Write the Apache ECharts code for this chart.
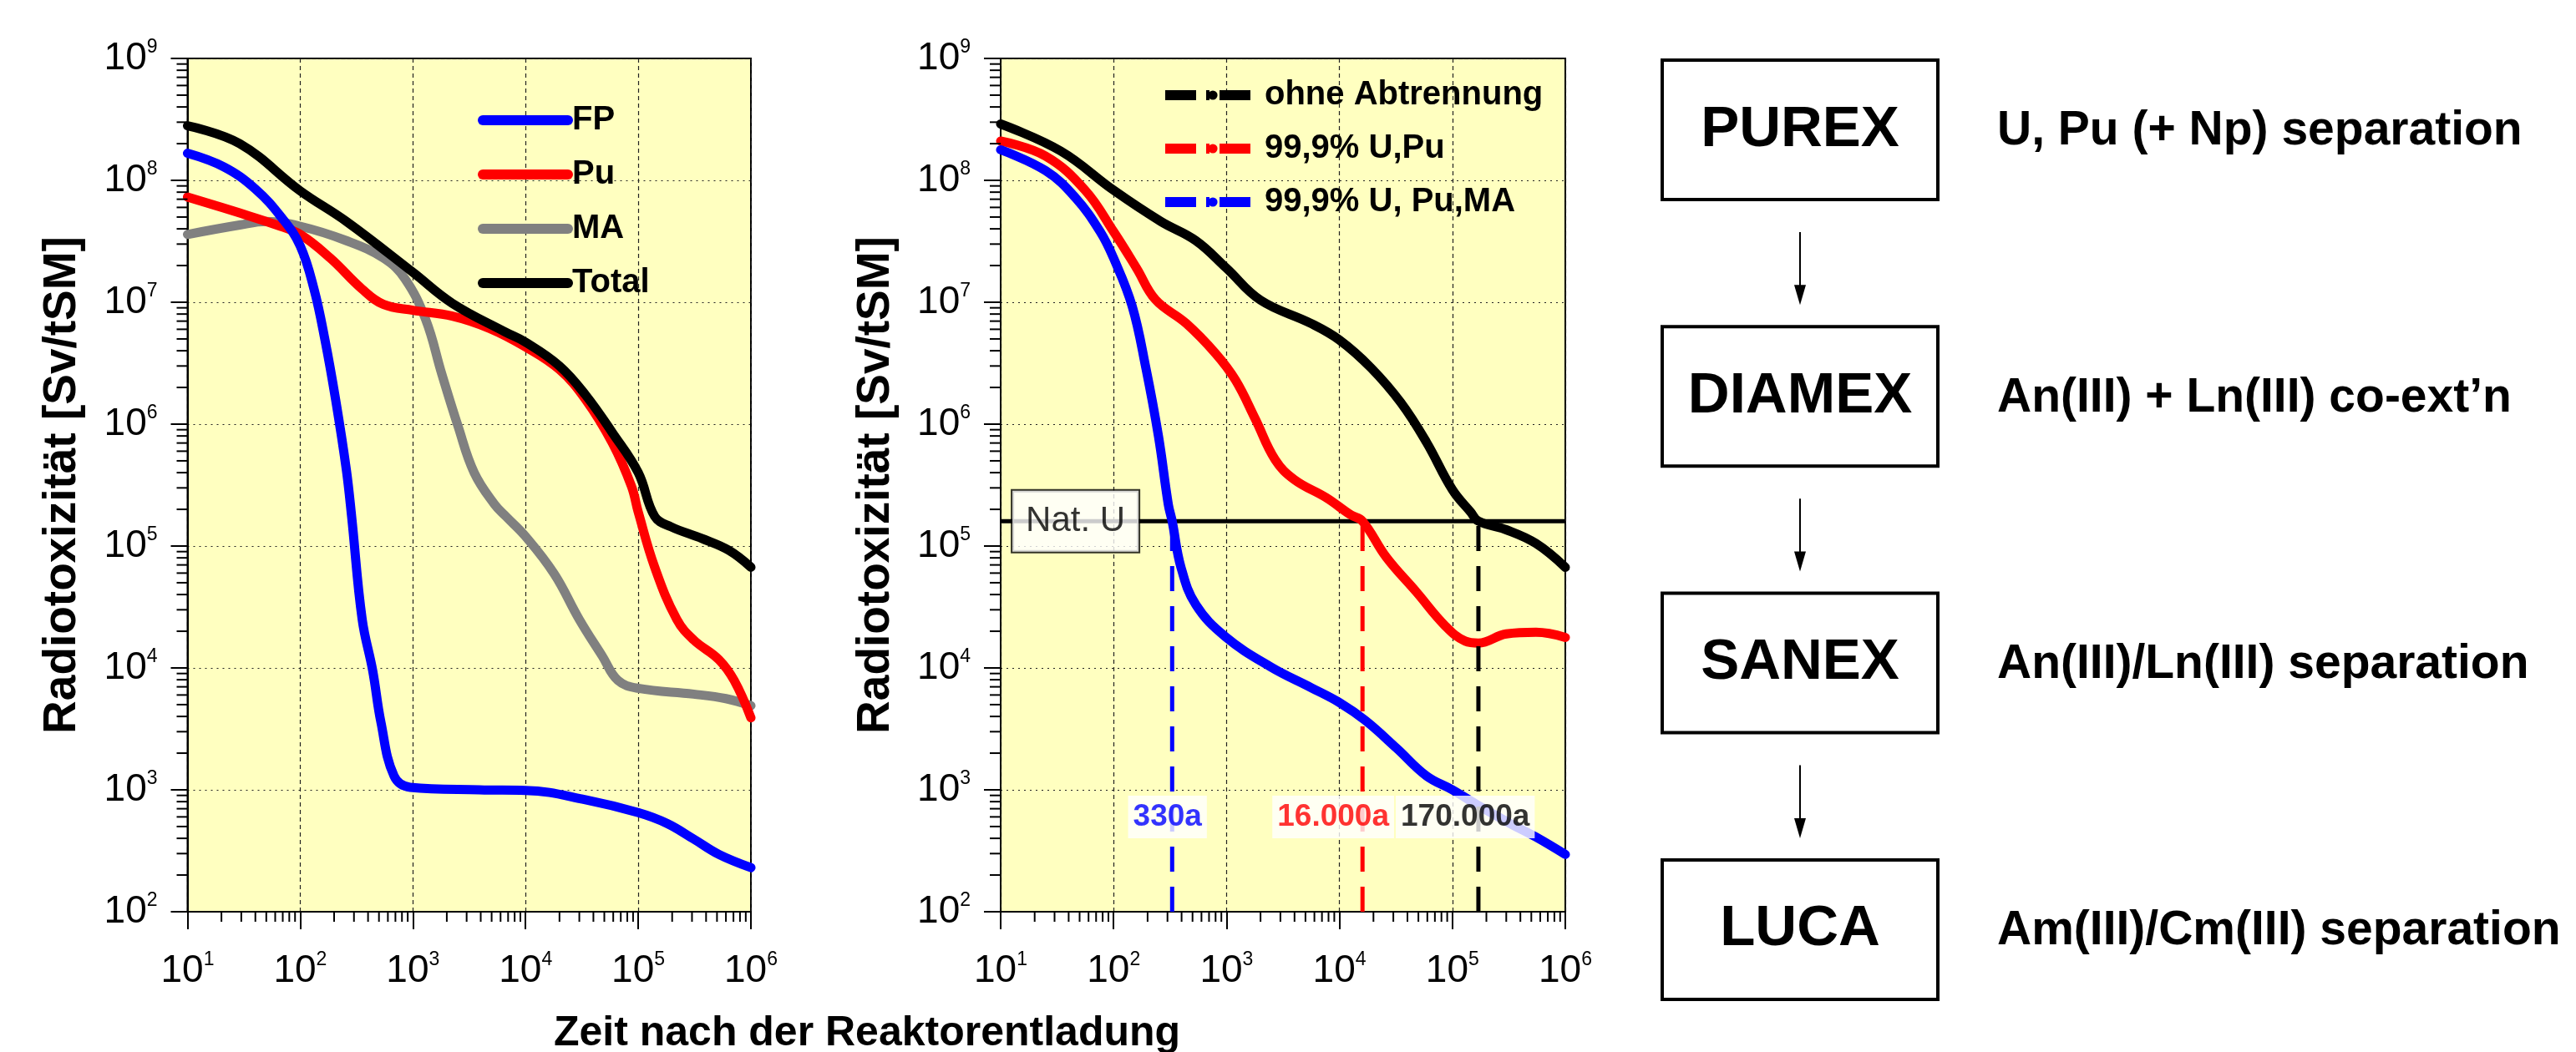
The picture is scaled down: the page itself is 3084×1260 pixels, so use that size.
<!DOCTYPE html>
<html>
<head>
<meta charset="utf-8">
<script src="https://cdn.jsdelivr.net/npm/echarts@6/dist/echarts.min.js"></script>
<style>
html,body{margin:0;padding:0;background:#fff;}
#chart{width:3084px;height:1260px;}
</style>
</head>
<body>
<div id="chart"></div>
<script>
// ---------- data ----------
// tick label exponents (labels are 10^n)
const xExp = [1, 2, 3, 4, 5, 6];
const yExp = [2, 3, 4, 5, 6, 7, 8, 9];

// left chart: radiotoxicity components (time in years, Sv/tSM)
const fpT = [10, 21, 40, 69, 100, 133, 166, 206, 257, 286, 355, 440, 520, 680, 945, 3900, 10000, 34000, 100000, 180000, 310000, 520000, 1000000];
const fpV = [1.67e8, 1.29e8, 8.5e7, 4.9e7, 2.9e7, 1.27e7, 4.9e6, 1.6e6, 4.2e5, 1.75e5, 2.5e4, 9.5e3, 3.6e3, 1.3e3, 1.05e3, 1.0e3, 9.9e2, 8.3e2, 6.5e2, 5.3e2, 3.95e2, 2.95e2, 2.3e2];

const puT = [10, 29, 62, 100, 185, 355, 550, 1000, 2240, 4800, 10000, 20000, 34000, 59000, 87000, 100000, 140000, 220000, 310000, 520000, 710000, 1000000];
const puV = [7.3e7, 5.4e7, 4.3e7, 3.6e7, 2.3e7, 1.28e7, 9.6e6, 8.6e6, 7.7e6, 6.1e6, 4.3e6, 2.8e6, 1.6e6, 7.0e5, 3.1e5, 1.9e5, 6.7e4, 2.5e4, 1.7e4, 1.17e4, 7.9e3, 3.9e3];

const maT = [10, 29, 50, 100, 257, 550, 850, 1300, 1800, 2500, 3500, 5300, 6700, 10000, 18000, 30000, 48000, 66000, 100000, 310000, 600000, 1000000];
const maV = [3.6e7, 4.3e7, 4.6e7, 4.2e7, 3.2e7, 2.3e7, 1.56e7, 7.2e6, 2.6e6, 9.8e5, 4.0e5, 2.2e5, 1.75e5, 1.2e5, 5.9e4, 2.5e4, 1.25e4, 7.9e3, 6.8e3, 6.1e3, 5.6e3, 4.9e3];

const totT = [10, 29, 100, 257, 1000, 2240, 6600, 10000, 20000, 34000, 59000, 100000, 140000, 195000, 370000, 640000, 1000000];
const totV = [2.8e8, 2.0e8, 8.2e7, 4.6e7, 1.76e7, 9.8e6, 5.7e6, 4.7e6, 3.0e6, 1.74e6, 8.5e5, 4.0e5, 1.75e5, 1.44e5, 1.15e5, 9.2e4, 6.7e4];

// middle chart: separation scenarios
const ohneT = [10, 34, 100, 262, 535, 1000, 2000, 5600, 10000, 19000, 35000, 59000, 100000, 145000, 170000, 300000, 550000, 1000000];
const ohneV = [2.9e8, 1.74e8, 8.3e7, 4.6e7, 3.2e7, 1.9e7, 1.04e7, 6.7e6, 4.9e6, 2.9e6, 1.5e6, 7.1e5, 2.9e5, 1.9e5, 1.6e5, 1.36e5, 1.05e5, 6.7e4];

const upuT = [10, 25, 56, 100, 160, 235, 440, 800, 1200, 1800, 2700, 4000, 7600, 12600, 16000, 26000, 48000, 87000, 130000, 170000, 300000, 550000, 1000000];
const upuV = [2.1e8, 1.58e8, 8.3e7, 3.8e7, 1.9e7, 1.05e7, 6.7e6, 3.8e6, 2.3e6, 1.1e6, 5.1e5, 3.5e5, 2.5e5, 1.8e5, 1.6e5, 8.1e4, 4.2e4, 2.2e4, 1.66e4, 1.6e4, 1.9e4, 1.96e4, 1.78e4];

const upumaT = [10, 25, 46, 76, 100, 146, 193, 250, 305, 330, 395, 535, 980, 2460, 5600, 10000, 17000, 32000, 59000, 100000, 180000, 330000, 550000, 1000000];
const upumaV = [1.78e8, 1.2e8, 7.2e7, 3.8e7, 2.3e7, 9.3e6, 2.9e6, 7.9e5, 2.2e5, 1.6e5, 6.7e4, 3.3e4, 1.8e4, 1.02e4, 6.9e3, 5.2e3, 3.7e3, 2.2e3, 1.3e3, 1.0e3, 7.2e2, 5.25e2, 4.1e2, 2.95e2];

const natU = 1.6e5;                 // natural uranium reference level
const natUTextT = 46;               // where the "Nat. U" tag sits
const sepT = [330, 16000, 170000];  // crossing times
const sepLabels = ['330a', '16.000a', '170.000a'];
const sepLabelT = [300, 8800, 130000];
const sepLabelV = 600;

const leftNames = ['FP', 'Pu', 'MA', 'Total'];
const midNames = ['ohne Abtrennung', '99,9% U,Pu', '99,9% U, Pu,MA'];

const flowNames = ['PUREX', 'DIAMEX', 'SANEX', 'LUCA'];
const flowDescs = ['U, Pu (+ Np) separation', 'An(III) + Ln(III) co-ext\u2019n', 'An(III)/Ln(III) separation', 'Am(III)/Cm(III) separation'];

// ---------- helpers ----------
const FONT = '"Liberation Sans", Arial, Helvetica, sans-serif';
const zip = (t, v) => t.map((x, i) => [x, v[i]]);
const minorMult = [2, 3, 4, 5, 6, 7, 8, 9];
function minorTicks(loExp, hiExp) {
  const out = [];
  for (let e = loExp; e < hiExp; e++) minorMult.forEach(m => out.push(m * Math.pow(10, e)));
  return out;
}
const minorX = minorTicks(1, 6);
const minorY = minorTicks(2, 9);

const BLUE = '#0000ff', RED = '#ff0000', GRAY = '#808080', BLACK = '#000000';
const BG = '#ffffc0';

const tickRich = {
  b: { fontSize: 46, fontFamily: FONT, color: '#000', lineHeight: 50 },
  s: { fontSize: 23, fontFamily: FONT, color: '#000', verticalAlign: 'top', lineHeight: 26 }
};

function xAxisFor(gi) {
  return {
    type: 'log', gridIndex: gi, logBase: 10, min: 10, max: 1e6, interval: 1,
    axisLine: { show: true, onZero: false, lineStyle: { color: '#000', width: 2 } },
    axisTick: { show: true, inside: false, length: 21, lineStyle: { color: '#000', width: 2 } },
    minorTick: { show: false },
    splitLine: { show: true, lineStyle: { color: '#222', width: 1.2, type: [5, 4] } },
    axisLabel: {
      margin: 46, color: '#000',
      formatter: (v, i) => '{b|10}{s|' + xExp[i] + '}',
      rich: tickRich
    }
  };
}
function yAxisFor(gi) {
  return {
    type: 'log', gridIndex: gi, logBase: 10, min: 100, max: 1e9, interval: 1,
    name: 'Radiotoxizit\u00e4t [Sv/tSM]', nameLocation: 'middle', nameRotate: 90, nameGap: 122,
    nameTextStyle: { fontSize: 55, fontWeight: 'bold', fontFamily: FONT, color: '#000' },
    axisLine: { show: true, lineStyle: { color: '#000', width: 2 } },
    axisTick: { show: true, inside: false, length: 20, lineStyle: { color: '#000', width: 2 } },
    minorTick: { show: false },
    splitLine: { show: true, lineStyle: { color: '#222', width: 1.2, type: [2, 5] } },
    axisLabel: {
      margin: 36, color: '#000',
      formatter: (v, i) => '{b|10}{s|' + yExp[i] + '}',
      rich: tickRich
    }
  };
}
function curve(name, gi, t, v, color) {
  return {
    name, type: 'line', xAxisIndex: gi, yAxisIndex: gi, data: zip(t, v),
    symbol: 'none', showSymbol: false, smooth: 0.4, z: 4,
    lineStyle: { color, width: 11, cap: 'round', join: 'round' },
    itemStyle: { color }, clip: true
  };
}
function minorSeries(gi, dir) {
  const data = dir === 'x' ? minorX.map(v => [v, 100]) : minorY.map(v => [10, v]);
  return {
    type: 'custom', xAxisIndex: gi, yAxisIndex: gi, data, clip: false, z: 5, silent: true,
    renderItem: (params, api) => {
      const p = api.coord([api.value(0), api.value(1)]);
      const shape = dir === 'x'
        ? { x1: p[0], y1: p[1], x2: p[0], y2: p[1] + 12 }
        : { x1: p[0] - 13, y1: p[1], x2: p[0], y2: p[1] };
      return { type: 'line', shape, style: { stroke: '#000', lineWidth: 2 } };
    }
  };
}
function sepLine(i, color) {
  return {
    type: 'line', xAxisIndex: 1, yAxisIndex: 1, data: [[sepT[i], 100], [sepT[i], natU]],
    symbol: 'none', z: 6, silent: true,
    lineStyle: { color, width: 5, type: [30, 18] }
  };
}

// ---------- flowchart graphics ----------
const flow = [];
const boxL = 1990, boxW = 330, boxH = 167, boxTop0 = 72, boxStep = 319.3, arrowX = 2155;
flowNames.forEach((n, i) => {
  const top = boxTop0 + i * boxStep;
  const cy = top + boxH / 2;
  flow.push({ type: 'rect', shape: { x: boxL, y: top, width: boxW, height: boxH },
    style: { fill: '#fff', stroke: '#000', lineWidth: 4 } });
  flow.push({ type: 'text', x: boxL + boxW / 2, y: cy,
    style: { text: n, fontSize: 69, fontWeight: 'bold', fontFamily: FONT, fill: '#000',
      align: 'center', verticalAlign: 'middle', textAlign: 'center', textVerticalAlign: 'middle' } });
  flow.push({ type: 'text', x: 2391, y: cy + 2,
    style: { text: flowDescs[i], fontSize: 57, fontWeight: 'bold', fontFamily: FONT, fill: '#000',
      align: 'left', verticalAlign: 'middle', textAlign: 'left', textVerticalAlign: 'middle' } });
  if (i < flowNames.length - 1) {
    const y1 = top + boxH + 39, y2 = top + boxStep - 26;
    flow.push({ type: 'line', shape: { x1: arrowX, y1: y1, x2: arrowX, y2: y2 - 10 },
      style: { stroke: '#000', lineWidth: 2 } });
    flow.push({ type: 'polygon', shape: { points: [[arrowX - 7, y2 - 24], [arrowX + 7, y2 - 24], [arrowX, y2]] },
      style: { fill: '#000' } });
  }
});

const option = {
  animation: false,
  backgroundColor: '#fff',
  title: {
    text: 'Zeit nach der Reaktorentladung', left: 1033, top: 1208, textAlign: 'center',
    textStyle: { fontSize: 50, fontWeight: 'bold', fontFamily: FONT, color: '#000' }
  },
  grid: [
    { left: 224.5, top: 70, width: 674.5, height: 1022, show: true, backgroundColor: BG, borderColor: '#000', borderWidth: 2 },
    { left: 1198, top: 70, width: 676, height: 1022, show: true, backgroundColor: BG, borderColor: '#000', borderWidth: 2 }
  ],
  xAxis: [xAxisFor(0), xAxisFor(1)],
  yAxis: [yAxisFor(0), yAxisFor(1)],
  legend: [
    {
      data: leftNames, orient: 'vertical', left: 567, top: 117,
      itemWidth: 102, itemHeight: 14, itemGap: 21, selectedMode: false,
      textStyle: { fontSize: 40, fontWeight: 'bold', fontFamily: FONT, color: '#000', lineHeight: 44 },
      lineStyle: { width: 12, cap: 'round' }
    },
    {
      data: midNames, orient: 'vertical', left: 1384, top: 87,
      itemWidth: 114, itemHeight: 14, itemGap: 20, selectedMode: false,
      textStyle: { fontSize: 40, fontWeight: 'bold', fontFamily: FONT, color: '#000', lineHeight: 44 },
      lineStyle: { width: 12, type: [37, 12, 4, 12], cap: 'butt' }
    }
  ],
  graphic: { elements: flow },
  series: [
    minorSeries(0, 'x'), minorSeries(0, 'y'), minorSeries(1, 'x'), minorSeries(1, 'y'),
    curve('MA', 0, maT, maV, GRAY),
    curve('Pu', 0, puT, puV, RED),
    curve('FP', 0, fpT, fpV, BLUE),
    curve('Total', 0, totT, totV, BLACK),
    {
      type: 'line', xAxisIndex: 1, yAxisIndex: 1, data: [[10, natU], [1e6, natU]],
      symbol: 'none', z: 3, silent: true, lineStyle: { color: '#000', width: 5 }
    },
    curve('ohne Abtrennung', 1, ohneT, ohneV, BLACK),
    curve('99,9% U,Pu', 1, upuT, upuV, RED),
    curve('99,9% U, Pu,MA', 1, upumaT, upumaV, BLUE),
    sepLine(0, BLUE), sepLine(1, RED), sepLine(2, BLACK),
    {
      type: 'scatter', xAxisIndex: 1, yAxisIndex: 1, symbolSize: 0, z: 8, silent: true,
      data: [[natUTextT, natU]],
      label: {
        show: true, position: 'inside', formatter: 'Nat. U',
        fontSize: 42, fontFamily: FONT, color: '#000',
        backgroundColor: '#fff', borderColor: '#000', borderWidth: 2, padding: [18, 16, 13, 16]
      }
    },
    {
      type: 'scatter', xAxisIndex: 1, yAxisIndex: 1, symbolSize: 0, z: 8, silent: true,
      data: sepLabelT.map((t, i) => ({
        value: [t, sepLabelV],
        label: { color: [BLUE, RED, BLACK][i] }
      })),
      label: {
        show: true, position: 'inside', formatter: p => sepLabels[p.dataIndex],
        fontSize: 37, fontWeight: 'bold', fontFamily: FONT,
        backgroundColor: '#fff', padding: [8, 6, 6, 6]
      }
    }
  ]
};

const chart = echarts.init(document.getElementById('chart'), null, { renderer: 'canvas' });
chart.setOption(option);
</script>
</body>
</html>
